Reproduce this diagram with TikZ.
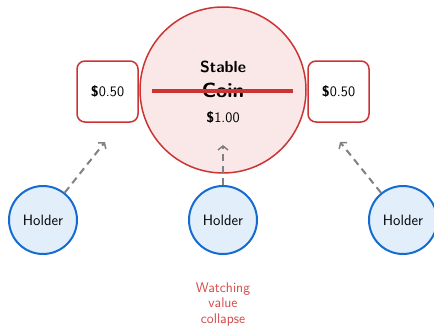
\documentclass[tikz,border=0pt]{standalone}
\usetikzlibrary{arrows.meta}
\definecolor{coinred}{RGB}{204, 51, 51}
\definecolor{coinfill}{RGB}{250, 232, 232}
\definecolor{holderblue}{RGB}{21, 108, 208}
\definecolor{holderfill}{RGB}{226, 238, 250}
\definecolor{watchred}{RGB}{212, 72, 72}

\begin{document}
\begin{tikzpicture}[x=1pt, y=1pt, font=\sffamily,
    coin/.style={draw=coinred, circle, line width=1.5pt, fill=coinfill, minimum size=166pt, inner sep=0pt},
    pricebox/.style={draw=coinred, rounded corners=8pt, line width=1.5pt, fill=white, minimum size=61pt, font=\sffamily\fontsize{14.5}{16}\selectfont},
    holder/.style={draw=holderblue, circle, line width=2pt, fill=holderfill, minimum size=68pt, inner sep=0pt, font=\sffamily\fontsize{15}{17}\selectfont},
    watch/.style={dashed, dash pattern=on 7pt off 5pt, line width=2pt, gray, -{Straight Barb[length=4pt, width=10pt, line width=1.5pt]}}]
    \useasboundingbox (0,0) rectangle (434,-325);

    \node[coin] (c) at (223,-90) {};
    \node[font=\sffamily\bfseries\fontsize{16}{18}\selectfont] (st) at (223,-67) {Stable};
    \node[font=\sffamily\bfseries\fontsize{20.5}{22}\selectfont] (cn) at (223,-90) {Coin};
    \node[font=\sffamily\fontsize{14.5}{16}\selectfont] (one) at (223,-117) {\textbf{\$}1.00};
    \draw[coinred, line width=4pt] (152,-91) -- (293,-91);

    \node[pricebox] (l) at (107.5,-91.5) {\textbf{\$}0.50};
    \node[pricebox] (r) at (338.5,-91.5) {\textbf{\$}0.50};

    \node[holder] (h1) at (43,-220) {Holder};
    \node[holder] (h2) at (223,-220) {Holder};
    \node[holder] (h3) at (403,-220) {Holder};

    \coordinate (t1) at (105,-142);
    \coordinate (t2) at (223,-145);
    \coordinate (t3) at (340,-142);
    \draw[watch] (h1) -- (t1);
    \draw[watch] (h2) -- (t2);
    \draw[watch] (h3) -- (t3);

    \node[text=watchred, align=center, font=\sffamily\fontsize{14}{15.5}\selectfont] (w) at (223,-304) {Watching\\value\\collapse};
\end{tikzpicture}
\end{document}
